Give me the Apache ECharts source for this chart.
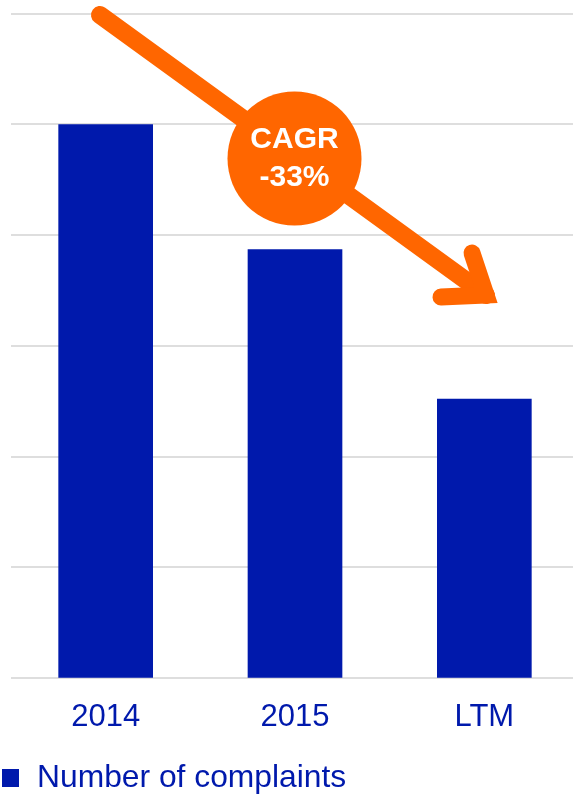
<!DOCTYPE html>
<html>
<head>
<meta charset="utf-8">
<style>
  html, body { margin: 0; padding: 0; background: #ffffff; }
  #chart { width: 573px; height: 796px; }
</style>
<script src="https://cdn.jsdelivr.net/npm/echarts@6/dist/echarts.min.js"></script>
</head>
<body>
<div id="chart"></div>
<script>
// Complaint counts per period (relative units)
const categories = ['2014', '2015', 'LTM'];
const complaints = [5.0, 3.87, 2.52];
const seriesName = 'Number of complaints';
const cagrLines = ['CAGR', '-33%'];

const BLUE = '#0019AC';
const ORANGE = '#FF6600';
const FONT = 'Liberation Sans, Arial, sans-serif';

const chart = echarts.init(document.getElementById('chart'), null, { renderer: 'canvas' });

chart.setOption({
  animation: false,
  backgroundColor: '#ffffff',
  grid: {
    left: 11, width: 568, top: 13.5, bottom: 118.3,
    containLabel: false, outerBoundsMode: 'none'
  },
  legend: {
    show: true,
    left: 2,
    top: 762,
    padding: 0,
    itemWidth: 17,
    itemHeight: 18,
    icon: 'rect',
    textStyle: { color: BLUE, fontSize: 31.8, fontFamily: FONT, padding: [0, 0, 0, 13] },
    data: [seriesName]
  },
  xAxis: {
    type: 'category',
    data: categories,
    axisLine: { show: false },
    axisTick: { show: false },
    axisLabel: { color: BLUE, fontSize: 31, fontFamily: FONT, margin: 24 }
  },
  yAxis: {
    type: 'value',
    min: 0,
    max: 6,
    interval: 1,
    axisLabel: { show: false },
    axisLine: { show: false },
    axisTick: { show: false },
    splitLine: { lineStyle: { color: '#DEDEDE', width: 2 } }
  },
  series: [{
    name: seriesName,
    type: 'bar',
    data: complaints,
    barWidth: '50%',
    itemStyle: { color: BLUE }
  }],
  graphic: [
    // downward trend arrow: shaft
    {
      type: 'line', z: 10,
      shape: { x1: 100, y1: 15, x2: 486, y2: 295 },
      style: { stroke: ORANGE, lineWidth: 18, lineCap: 'round' }
    },
    // arrow head
    {
      type: 'polyline', z: 10,
      shape: { points: [[472, 253], [486, 295], [441, 297]] },
      style: { stroke: ORANGE, lineWidth: 17, lineCap: 'round', lineJoin: 'miter', fill: null }
    },
    // CAGR badge
    {
      type: 'circle', z: 11,
      shape: { cx: 294.5, cy: 158.5, r: 67 },
      style: { fill: ORANGE }
    },
    {
      type: 'text', z: 12,
      x: 294.5, y: 140,
      style: {
        text: cagrLines[0], fill: '#ffffff', font: 'bold 30px ' + FONT,
        align: 'center', verticalAlign: 'middle'
      }
    },
    {
      type: 'text', z: 12,
      x: 294.5, y: 178,
      style: {
        text: cagrLines[1], fill: '#ffffff', font: 'bold 30px ' + FONT,
        align: 'center', verticalAlign: 'middle'
      }
    }
  ]
});
</script>
</body>
</html>
